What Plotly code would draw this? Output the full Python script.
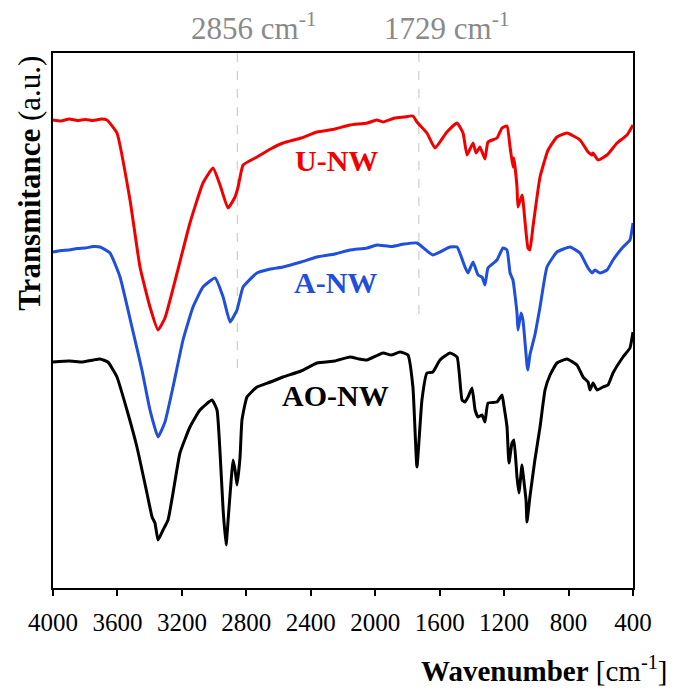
import plotly.graph_objects as go

# ---------------- data (wavenumber in cm-1, transmittance in a.u.) ----------------
u_nw_wn = [4000, 3950, 3900, 3850, 3800, 3750, 3700, 3665, 3603, 3522, 3460, 3398, 3348, 3305, 3230,
           3150, 3069, 3007, 2963, 2914, 2870, 2851, 2820, 2734, 2650, 2572, 2460, 2361, 2250, 2157,
           2050, 1990, 1952, 1880, 1820, 1766, 1741, 1679, 1629, 1555, 1492, 1455, 1430, 1393, 1374,
           1350, 1319, 1300, 1244, 1213, 1182, 1163, 1145, 1139, 1120, 1114, 1089, 1083, 1052, 1040,
           1021, 977, 927, 872, 810, 729, 679, 654, 648, 617, 561, 499, 437, 400]
u_nw_t = [93.6, 93.4, 93.8, 93.5, 93.7, 93.5, 93.8, 93.6, 91.0, 77.6, 64.2, 56.2, 51.6, 54.0, 63.0,
          73.0, 81.0, 84.0, 80.6, 76.0, 78.2, 80.2, 84.6, 86.2, 87.8, 89.0, 90.0, 91.2, 91.8, 92.6,
          93.0, 93.6, 93.2, 94.0, 94.2, 94.4, 93.2, 91.0, 88.0, 91.2, 93.0, 91.0, 86.6, 89.0, 87.0,
          88.2, 85.8, 89.2, 90.0, 92.0, 92.4, 88.2, 84.2, 86.0, 80.2, 76.2, 78.6, 77.6, 68.0, 67.6,
          72.2, 82.2, 87.6, 90.2, 91.0, 89.6, 87.2, 86.6, 87.0, 85.6, 86.6, 89.0, 90.6, 92.6]

a_nw_wn = [4000, 3950, 3900, 3850, 3800, 3750, 3708, 3646, 3584, 3510, 3448, 3398, 3348, 3305, 3255,
           3193, 3131, 3069, 2994, 2944, 2901, 2858, 2820, 2734, 2650, 2572, 2460, 2361, 2250, 2157,
           2050, 1989, 1900, 1820, 1741, 1642, 1536, 1492, 1443, 1424, 1393, 1362, 1337, 1319, 1300,
           1244, 1207, 1182, 1163, 1145, 1120, 1114, 1095, 1083, 1058, 1052, 1040, 1009, 977, 934,
           872, 791, 729, 679, 654, 636, 605, 561, 524, 462, 419, 400]
a_nw_t = [67.2, 67.5, 67.6, 67.9, 68.0, 68.3, 68.2, 67.0, 62.2, 52.2, 43.6, 35.6, 30.2, 33.2, 40.2,
          49.6, 56.2, 60.2, 62.0, 58.2, 53.2, 55.6, 60.2, 63.0, 63.8, 64.2, 65.2, 66.2, 66.8, 67.6,
          68.0, 68.6, 68.3, 68.8, 69.0, 66.6, 68.2, 68.2, 64.2, 63.0, 65.2, 62.6, 62.2, 60.6, 64.0,
          65.6, 68.0, 67.6, 63.0, 61.6, 55.0, 51.6, 55.0, 53.6, 44.6, 43.6, 46.6, 50.6, 56.2, 64.2,
          67.2, 68.2, 67.0, 64.0, 63.0, 63.6, 63.0, 63.6, 65.6, 68.2, 69.6, 73.0]

ao_nw_wn = [4000, 3900, 3814, 3750, 3708, 3659, 3603, 3541, 3479, 3417, 3385, 3367, 3348, 3317, 3286,
            3255, 3212, 3150, 3088, 3013, 2982, 2963, 2944, 2926, 2907, 2882, 2870, 2858, 2839, 2827,
            2796, 2734, 2650, 2572, 2460, 2361, 2250, 2157, 2100, 2051, 1952, 1900, 1846, 1797, 1766,
            1741, 1710, 1679, 1642, 1598, 1536, 1492, 1461, 1443, 1424, 1399, 1380, 1362, 1337, 1319,
            1300, 1244, 1213, 1200, 1182, 1170, 1151, 1139, 1120, 1108, 1089, 1083, 1064, 1058, 1040,
            1009, 977, 946, 915, 872, 810, 748, 710, 679, 667, 648, 623, 586, 555, 524, 462, 419, 400]
ao_nw_t = [45.2, 45.4, 45.2, 45.6, 45.8, 45.2, 42.2, 35.6, 28.2, 19.0, 14.2, 13.0, 9.6, 11.6, 13.6,
           19.0, 27.0, 32.2, 35.6, 37.6, 35.6, 27.0, 15.6, 8.6, 16.2, 25.6, 23.6, 20.6, 26.2, 33.6,
           38.2, 40.2, 41.2, 42.2, 43.4, 45.0, 45.4, 46.2, 45.8, 45.6, 47.0, 46.6, 47.2, 46.6, 40.2,
           24.2, 37.6, 43.0, 43.2, 45.6, 47.0, 46.2, 37.6, 37.2, 38.2, 40.0, 35.6, 34.2, 34.6, 33.2,
           37.0, 37.2, 38.6, 36.2, 32.2, 25.0, 29.0, 29.6, 22.2, 19.0, 24.6, 23.0, 17.6, 13.2, 18.2,
           25.6, 32.2, 39.6, 42.6, 45.0, 45.8, 44.6, 42.2, 41.2, 39.6, 41.0, 39.6, 40.2, 40.6, 43.0,
           46.2, 48.0, 51.2]

series_names = ["U-NW", "A-NW", "AO-NW"]
series_colors = ["#f20000", "#1f4fdb", "#000000"]

# marked peaks and how far down each guide line reaches
peak_wn = [2856, 1729]
peak_labels = ["2856 cm<sup>-1</sup>", "1729 cm<sup>-1</sup>"]
peak_line_bottom = [43.2, 53.2]

x_ticks = [4000, 3600, 3200, 2800, 2400, 2000, 1600, 1200, 800, 400]
y_range = [0, 107]

FONT = "Liberation Serif, Times New Roman, serif"

fig = go.Figure()

# guide lines
for wn, yb in zip(peak_wn, peak_line_bottom):
    fig.add_trace(go.Scatter(x=[wn, wn], y=[y_range[1], yb], mode="lines",
                             line=dict(color="#c4c4c4", width=1, dash="dash"),
                             hoverinfo="skip", showlegend=False))

for xs, ys, name, col in zip([u_nw_wn, a_nw_wn, ao_nw_wn], [u_nw_t, a_nw_t, ao_nw_t],
                             series_names, series_colors):
    fig.add_trace(go.Scatter(x=xs, y=ys, mode="lines", name=name,
                             line=dict(color=col, width=3, shape="spline", smoothing=0.4),
                             showlegend=False))

# curve labels
label_pos = [(2510, 85.6), (2516, 61.2), (2591, 38.6)]
for (lx, ly), name, col in zip(label_pos, series_names, series_colors):
    fig.add_annotation(x=lx, y=ly, xref="x", yref="y", text=f"<b>{name}</b>", showarrow=False,
                       xanchor="left", yanchor="middle", font=dict(family=FONT, size=30, color=col))

# peak annotations
for wn, txt, sh in zip(peak_wn, peak_labels, [17, 28]):
    fig.add_annotation(x=wn, y=1.05, xref="x", yref="paper", text=txt, showarrow=False,
                       xanchor="center", yanchor="middle", xshift=sh,
                       font=dict(family=FONT, size=31, color="#8a8a8a"))

# axis titles
fig.add_annotation(x=1.062, y=-0.151, xref="paper", yref="paper",
                   text="<b>Wavenumber</b> [cm<sup>-1</sup>]", showarrow=False,
                   xanchor="right", yanchor="middle", font=dict(family=FONT, size=29, color="black"))
fig.add_annotation(x=-0.041, y=0.756, xref="paper", yref="paper",
                   text="<b>Transmitance</b> (a.u.)", showarrow=False, textangle=-90,
                   xanchor="center", yanchor="middle", font=dict(family=FONT, size=31, color="black"))

fig.update_layout(
    width=675, height=690,
    margin=dict(l=45, r=50, t=45, b=110),
    paper_bgcolor="white", plot_bgcolor="white",
    font=dict(family=FONT, color="black"),
)
fig.update_xaxes(range=[4000, 400], tickvals=x_ticks, ticktext=[str(t) for t in x_ticks],
                 ticks="outside", ticklen=6, tickwidth=1.5, tickcolor="black",
                 ticklabelstandoff=5,
                 showline=True, linewidth=2, linecolor="black", mirror=True,
                 showgrid=False, zeroline=False, tickfont=dict(family=FONT, size=25, color="black"))
fig.update_yaxes(range=y_range, showticklabels=False, ticks="",
                 showline=True, linewidth=2, linecolor="black", mirror=True,
                 showgrid=False, zeroline=False)

fig.write_html("out.html")
